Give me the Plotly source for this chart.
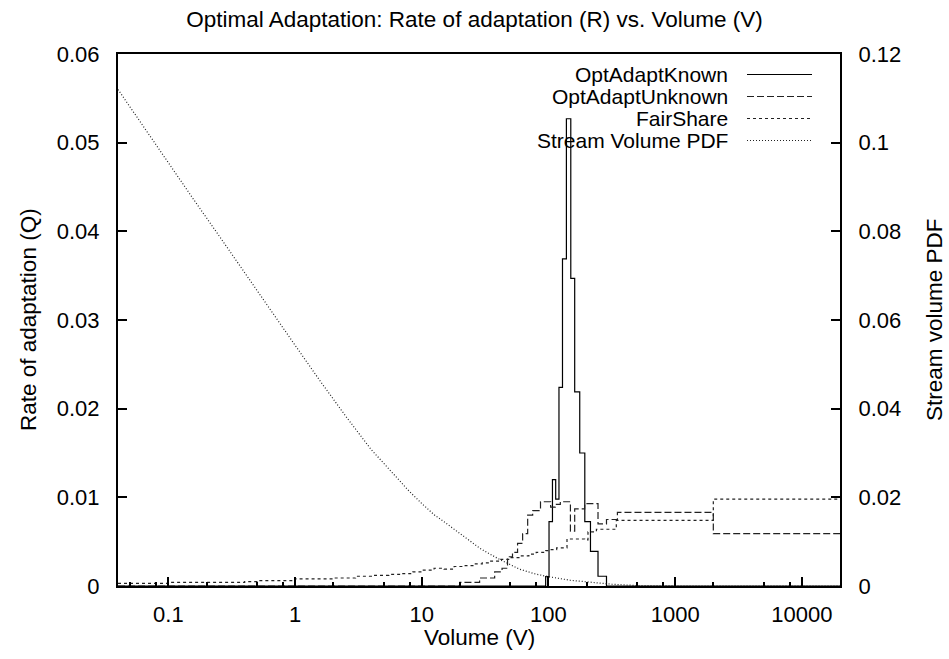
import plotly.graph_objects as go

# ---- data -------------------------------------------------------------
# Optimal adaptation rate, stream volume known (step histogram: left bin edges / heights)
known_edges = [0.04, 95, 101, 107.5, 114, 121, 129, 138.5, 150, 161, 176.5, 193.5, 214.5, 246, 287]
known_rate = [0.0, 0.00105, 0.00725, 0.0120, 0.0098, 0.0224, 0.0369, 0.0527, 0.0347, 0.0219,
              0.0150, 0.00725, 0.0039, 0.0011, 0.0]

# Optimal adaptation rate, stream volume unknown
unknown_edges = [0.04, 20, 28.6, 37.6, 43, 47.5, 52, 57, 62.5, 68.5, 75, 86.5, 104, 113, 124,
                 149, 161, 193, 246, 287, 350, 2000]
unknown_rate = [0.0, 0.0004, 0.0009, 0.0016, 0.0020, 0.0033, 0.0038, 0.0048, 0.0059, 0.0080,
                0.0085, 0.0095, 0.0089, 0.0092, 0.0095, 0.0062, 0.0087, 0.0093, 0.0070, 0.0075,
                0.0083, 0.0059]

# Fair-share rate
fair_edges = [0.04, 0.1, 0.4, 0.5, 1.0, 2.0, 3.0, 4.0, 5.5, 7.0, 8.5, 10, 12.5, 15, 18, 22,
              26, 30, 35, 42, 50, 60, 70, 80, 95, 105, 116, 140, 193, 205, 239, 343, 2000]
fair_rate = [0.0003, 0.0004, 0.0005, 0.0006, 0.0008, 0.0009, 0.0011, 0.0012, 0.0013, 0.0014,
             0.0016, 0.0018, 0.0020, 0.0019, 0.0022, 0.0023, 0.0025, 0.0026, 0.0028, 0.0030,
             0.0032, 0.0034, 0.0036, 0.0038, 0.0040, 0.0041, 0.0043, 0.0053, 0.0052, 0.0061,
             0.0064, 0.0074, 0.0098]

# Stream volume probability density (right axis)
pdf_volume = [0.04, 0.063, 0.1, 0.158, 0.251, 0.398, 0.631, 1.0, 1.58, 2.51, 3.98, 6.31, 7.94,
              10, 12.6, 14.8, 20, 28.8, 39.8, 59, 79, 100, 148, 214, 316, 500, 1000, 20000]
pdf_value = [0.1120, 0.1037, 0.0955, 0.0872, 0.0790, 0.0707, 0.0625, 0.0543, 0.0462, 0.0383,
             0.0308, 0.0244, 0.0214, 0.0186, 0.0160, 0.0146, 0.0118, 0.0085, 0.0062, 0.0038,
             0.0027, 0.0021, 0.0013, 0.0008, 0.0004, 0.0001, 0.0, 0.0]

x_range = [0.04, 20000]
x_ticks = [0.1, 1, 10, 100, 1000, 10000]
x_ticklabels = ["0.1", "1", "10", "100", "1000", "10000"]
x_minor = [0.05, 0.08, 0.2, 0.5, 0.8, 2, 5, 8, 20, 50, 80, 200, 500, 800, 2000, 5000, 8000]
y_ticks = [0, 0.01, 0.02, 0.03, 0.04, 0.05, 0.06]
y_ticklabels = ["0", "0.01", "0.02", "0.03", "0.04", "0.05", "0.06"]
y2_ticks = [0, 0.02, 0.04, 0.06, 0.08, 0.1, 0.12]
y2_ticklabels = ["0", "0.02", "0.04", "0.06", "0.08", "0.1", "0.12"]

series_names = ["OptAdaptKnown", "OptAdaptUnknown", "FairShare", "Stream Volume PDF"]

# ---- styling ----------------------------------------------------------
FONT = "Liberation Sans, Arial, Helvetica, sans-serif"
FS_TICK = 22
FS_TEXT = 22.5
FS_KEY = 21
styles = [
    dict(color="#000000", width=1.2, dash="solid"),
    dict(color="#222222", width=1.2, dash="7px,3px"),
    dict(color="#222222", width=1.2, dash="3px,3px"),
    dict(color="#222222", width=1.2, dash="1px,2px"),
]


def step(edges, vals, end):
    return list(edges) + [end], list(vals) + [vals[-1]]


fig = go.Figure()
for (edges, vals), name, st in zip(
    [(known_edges, known_rate), (unknown_edges, unknown_rate), (fair_edges, fair_rate)],
    series_names[:3], styles[:3]
):
    xs, ys = step(edges, vals, x_range[1])
    fig.add_trace(go.Scatter(x=xs, y=ys, mode="lines", name=name, line_shape="hv",
                             line=st, showlegend=False))

fig.add_trace(go.Scatter(x=pdf_volume, y=pdf_value, mode="lines", name=series_names[3],
                         line=styles[3], yaxis="y2", showlegend=False))

# plot area in pixels
W, H = 949, 659
L, R, T, B = 118, 840, 54, 586
pw, ph = R - L, B - T


def px(x):
    return (x - L) / pw


def py(y):
    return (B - y) / ph


# key: right-aligned labels with line samples to their right
key_rows = [74.5, 96.5, 118.5, 140.5]
annotations = []
shapes = []
for name, st, yy in zip(series_names, styles, key_rows):
    annotations.append(dict(x=px(729), y=py(yy), xref="paper", yref="paper", text=name,
                            showarrow=False, xanchor="right", yanchor="middle",
                            borderpad=0,
                            font=dict(family=FONT, size=FS_KEY, color="black")))
    shapes.append(dict(type="line", xref="paper", yref="paper", x0=px(747), x1=px(812),
                       y0=py(yy), y1=py(yy), line=st))

annotations += [
    dict(x=0.5, y=py(637), xref="paper", yref="paper", text="Volume (V)", showarrow=False,
         xanchor="center", yanchor="middle", font=dict(family=FONT, size=FS_TEXT, color="black")),
    dict(x=px(28), y=0.5, xref="paper", yref="paper", text="Rate of adaptation (Q)",
         showarrow=False, textangle=-90, xanchor="center", yanchor="middle",
         font=dict(family=FONT, size=FS_TEXT, color="black")),
    dict(x=px(934), y=0.5, xref="paper", yref="paper", text="Stream volume PDF",
         showarrow=False, textangle=-90, xanchor="center", yanchor="middle",
         font=dict(family=FONT, size=FS_TEXT, color="black")),
]

axis_common = dict(showgrid=False, zeroline=False, showline=True, linecolor="black",
                   linewidth=2, ticks="inside", ticklen=9, tickwidth=1.5, tickcolor="black",
                   tickfont=dict(family=FONT, size=FS_TICK, color="black"))

fig.update_layout(
    width=W, height=H,
    margin=dict(l=L, r=W - R, t=T, b=H - B),
    paper_bgcolor="white", plot_bgcolor="white",
    title=dict(text="Optimal Adaptation: Rate of adaptation (R) vs. Volume (V)",
               x=0.5, xanchor="center", y=1 - 19 / H, yanchor="middle",
               font=dict(family=FONT, size=FS_TEXT, color="black")),
    xaxis=dict(axis_common, type="log", range=[-1.39794, 4.30103], tickvals=x_ticks,
               ticktext=x_ticklabels, mirror=True, ticklabelstandoff=8,
               minor=dict(tickmode="array", tickvals=x_minor, ticks="inside", ticklen=4,
                          tickwidth=1.5, tickcolor="black")),
    yaxis=dict(axis_common, range=[0, 0.06], tickvals=y_ticks, ticktext=y_ticklabels,
               ticklabelstandoff=12),
    yaxis2=dict(axis_common, range=[0, 0.12], tickvals=y2_ticks, ticktext=y2_ticklabels,
                overlaying="y", side="right", ticklabelstandoff=12),
    annotations=annotations,
    shapes=shapes,
)

fig.write_html("out.html")
